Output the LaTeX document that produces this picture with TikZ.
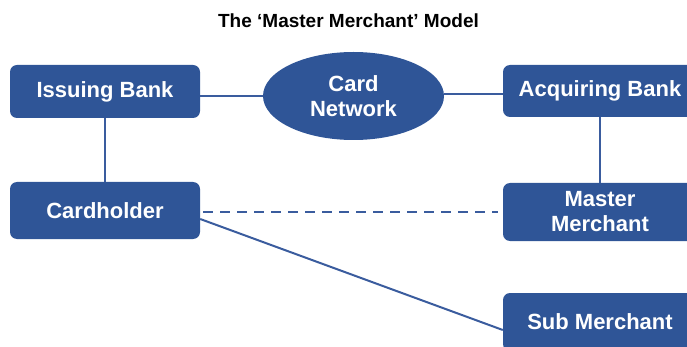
\documentclass[tikz,border=0pt]{standalone}
\usepackage{fontspec}
\setmainfont{Liberation Sans}
\usetikzlibrary{shapes.geometric}
\definecolor{boxblue}{RGB}{47,85,151}
\definecolor{linkblue}{RGB}{58,92,158}
\begin{document}
\begin{tikzpicture}[x=1pt,y=-1pt,
  entity/.style={rectangle, rounded corners=7pt, fill=boxblue, text=white,
    font=\fontsize{22}{25}\selectfont\bfseries, align=center,
    minimum width=194pt, minimum height=55pt, inner sep=0pt},
  hub/.style={ellipse, fill=boxblue, text=white,
    font=\fontsize{22}{25}\selectfont\bfseries, align=center,
    minimum width=181pt, minimum height=88pt, inner sep=0pt},
  link/.style={draw=linkblue, line width=2pt},
  weaklink/.style={link, dash pattern=on 10pt off 7pt}]
\useasboundingbox (0,0) rectangle (687,347);
\clip (0,0) rectangle (687,347);

\node[font=\fontsize{19}{22}\selectfont\bfseries] (title) at (348.5,21) {The ‘Master Merchant’ Model};

\node[entity, minimum width=190pt, minimum height=53pt] (issuing) at (105,91.5) {Issuing Bank};
\node[entity, minimum width=190pt, minimum height=57pt] (holder) at (105,210.5) {Cardholder};
\node[hub] (network) at (353.5,96) {Card\\Network};
\node[entity, minimum height=52pt] (acquiring) at (600,91) {Acquiring Bank};
\node[entity, minimum height=58pt] (master) at (600,212) {Master\\Merchant};
\node[entity, minimum height=58pt] (sub) at (600,322) {Sub Merchant};

% upper links between banks and the card network
\draw[link] (network.west) -- (network.west -| issuing.east);
\draw[link] ([yshift=2pt]network.east) -- ([yshift=2pt]network.east -| acquiring.west);
\draw[link] (issuing) -- (holder);
\draw[link] (acquiring) -- (master);
% cardholder to merchants
\draw[weaklink] ([xshift=3pt]master.west -| holder.east) -- ([xshift=-5pt]master.west);
\draw[link] ([yshift=-8.5pt]holder.east) -- ([yshift=-8pt]sub.west);
\end{tikzpicture}
\end{document}
